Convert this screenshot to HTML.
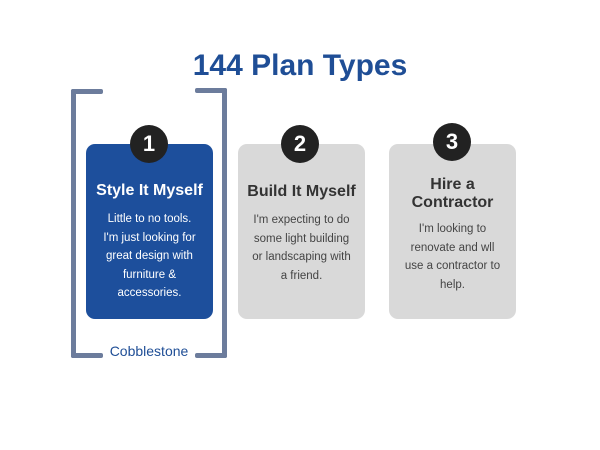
<!DOCTYPE html>
<html><head><style>
body{margin:0;width:600px;height:450px;background:#fff;position:relative;font-family:"Liberation Sans",sans-serif;overflow:hidden}
.t{position:absolute;left:0;width:600px;text-align:center;top:49px;font-size:30px;font-weight:bold;color:#1f4e96}
.card{position:absolute;top:144px;width:127px;height:175px;border-radius:9px;background:#d9d9d9;text-align:center}
.c1{left:86px;background:#1d4f9c;color:#fff}
.c2{left:238px;color:#333}
.c3{left:389px;color:#333}
.n{position:absolute;top:125px;width:38px;height:38px;border-radius:50%;background:#222;color:#fff;font-weight:bold;font-size:22px;line-height:38px;text-align:center}
.h{position:absolute;left:0;width:100%;font-weight:bold;font-size:16px;line-height:18px}
.p{position:absolute;left:4px;right:4px;font-size:11.5px;line-height:18.5px}
.c2 .p,.c3 .p{color:#444}
.b{position:absolute;background:#6c7c9c;border-radius:2px}
</style></head><body>
<div class="t">144 Plan Types</div>
<div class="b" style="left:71px;top:89px;width:5px;height:269px"></div>
<div class="b" style="left:71px;top:89px;width:32px;height:5px"></div>
<div class="b" style="left:71px;top:353px;width:32px;height:5px"></div>
<div class="b" style="left:222px;top:88px;width:5px;height:270px"></div>
<div class="b" style="left:195px;top:88px;width:32px;height:5px"></div>
<div class="b" style="left:195px;top:353px;width:32px;height:5px"></div>
<div style="position:absolute;left:99px;width:100px;text-align:center;top:343px;font-size:14px;color:#1f4e96">Cobblestone</div>
<div class="card c1"><div class="h" style="top:38px">Style It Myself</div>
<div class="p" style="top:66px">Little to no tools.<br>I'm just looking for<br>great design with<br>furniture &amp;<br>accessories.</div></div>
<div class="card c2"><div class="h" style="top:39px">Build It Myself</div>
<div class="p" style="top:67px">I'm expecting to do<br>some light building<br>or landscaping with<br>a friend.</div></div>
<div class="card c3"><div class="h" style="top:32px">Hire a<br>Contractor</div>
<div class="p" style="top:76px">I'm looking to<br>renovate and wll<br>use a contractor to<br>help.</div></div>
<div class="n" style="left:130px">1</div>
<div class="n" style="left:281px">2</div>
<div class="n" style="left:433px;top:123px">3</div>
</body></html>
